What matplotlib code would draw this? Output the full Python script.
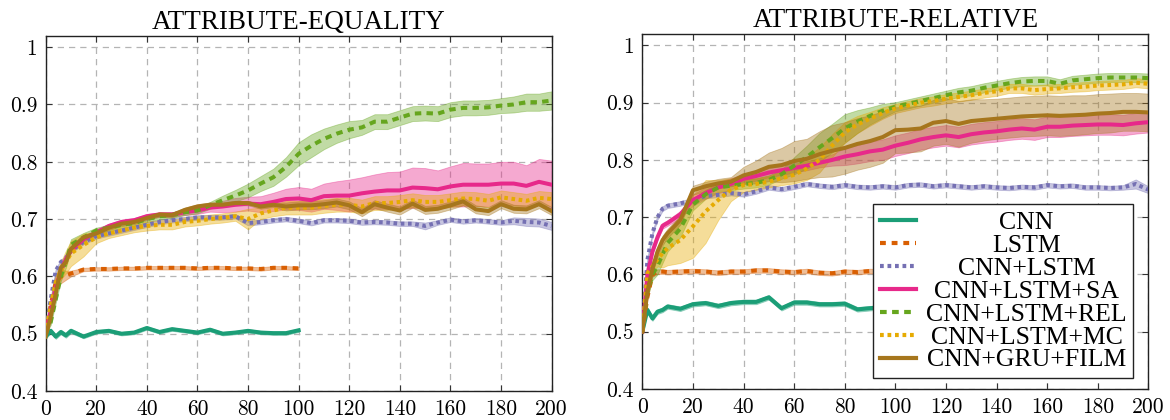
import matplotlib
matplotlib.use("Agg")
import matplotlib.pyplot as plt
from matplotlib.ticker import FuncFormatter, MultipleLocator
import numpy as np

# Epochs at which accuracy was logged
epochs_full = [0, 2, 4, 6, 8, 10] + list(range(15, 205, 5))
epochs_short = [0, 2, 4, 6, 8, 10] + list(range(15, 105, 5))

models = ["CNN", "LSTM", "CNN+LSTM", "CNN+LSTM+SA", "CNN+LSTM+REL", "CNN+LSTM+MC", "CNN+GRU+FILM"]
colors = ["#1b9e77", "#d95f02", "#7570b3", "#e7298a", "#66a61e", "#e6ab02", "#a6761d"]

# ---- ATTRIBUTE-EQUALITY: mean accuracy and spread per model ----
eq_cnn = [0.495, 0.505, 0.495, 0.503, 0.497, 0.505, 0.495, 0.503, 0.505, 0.500, 0.502, 0.510,
          0.503, 0.508, 0.505, 0.502, 0.507, 0.500, 0.502, 0.505, 0.502, 0.501, 0.501, 0.506]
eq_cnn_sd = [0.004] * 6 + [0.003] * 18
eq_lstm = [0.500, 0.550, 0.590, 0.600, 0.602, 0.605, 0.612, 0.613, 0.613, 0.614, 0.614, 0.615,
           0.615, 0.615, 0.615, 0.614, 0.615, 0.615, 0.614, 0.614, 0.613, 0.615, 0.615, 0.614]
eq_lstm_sd = [0.0, 0.010, 0.015, 0.012, 0.008, 0.005] + [0.003] * 18
eq_cnnlstm = [0.500, 0.560, 0.610, 0.625, 0.632, 0.645, 0.660, 0.670, 0.675, 0.680, 0.685, 0.690,
              0.695, 0.698, 0.700, 0.703, 0.703, 0.703, 0.705, 0.693, 0.695, 0.698, 0.700, 0.697,
              0.693, 0.698, 0.698, 0.697, 0.694, 0.695, 0.694, 0.692, 0.692, 0.688, 0.694, 0.699,
              0.696, 0.698, 0.696, 0.694, 0.697, 0.695, 0.694, 0.688]
eq_cnnlstm_sd = [0.004] * 33 + [0.006] + [0.004] * 6 + [0.006, 0.007, 0.007, 0.007]
eq_sa = [0.500, 0.540, 0.580, 0.610, 0.630, 0.645, 0.665, 0.677, 0.688, 0.695, 0.698, 0.705,
         0.708, 0.708, 0.712, 0.715, 0.720, 0.722, 0.725, 0.727, 0.726, 0.730, 0.735, 0.736,
         0.733, 0.740, 0.741, 0.741, 0.745, 0.748, 0.750, 0.750, 0.755, 0.754, 0.752, 0.757,
         0.760, 0.760, 0.760, 0.762, 0.762, 0.758, 0.765, 0.760]
eq_sa_sd = [0.0, 0.004, 0.004, 0.004, 0.004, 0.004, 0.004, 0.004, 0.004, 0.004, 0.004, 0.004,
            0.004, 0.004, 0.005, 0.006, 0.007, 0.010, 0.012, 0.012, 0.014, 0.016, 0.018, 0.020,
            0.020, 0.022, 0.025, 0.028, 0.028, 0.030, 0.032, 0.033, 0.035, 0.035, 0.033, 0.035,
            0.038, 0.037, 0.037, 0.038, 0.038, 0.036, 0.040, 0.042]
eq_rel = [0.500, 0.520, 0.560, 0.600, 0.625, 0.655, 0.668, 0.680, 0.685, 0.690, 0.693, 0.700,
          0.705, 0.707, 0.712, 0.715, 0.724, 0.733, 0.741, 0.750, 0.762, 0.773, 0.791, 0.814,
          0.828, 0.840, 0.849, 0.856, 0.860, 0.870, 0.870, 0.877, 0.884, 0.885, 0.884, 0.891,
          0.894, 0.894, 0.895, 0.898, 0.900, 0.904, 0.904, 0.907]
eq_rel_sd = [0.0, 0.005, 0.006, 0.008, 0.010, 0.010, 0.008, 0.005, 0.005, 0.005, 0.005, 0.005,
             0.005, 0.005, 0.005, 0.005, 0.006, 0.008, 0.010, 0.012, 0.013, 0.015, 0.017, 0.020,
             0.020, 0.018, 0.016, 0.015, 0.013, 0.013, 0.013, 0.013, 0.013, 0.013, 0.013, 0.013,
             0.013, 0.013, 0.013, 0.013, 0.014, 0.015, 0.015, 0.016]
eq_mc = [0.500, 0.550, 0.590, 0.610, 0.625, 0.640, 0.655, 0.668, 0.675, 0.680, 0.685, 0.688,
         0.690, 0.690, 0.695, 0.697, 0.700, 0.702, 0.705, 0.700, 0.710, 0.715, 0.720, 0.720,
         0.720, 0.723, 0.725, 0.725, 0.722, 0.728, 0.728, 0.730, 0.733, 0.730, 0.730, 0.733,
         0.736, 0.735, 0.732, 0.738, 0.735, 0.732, 0.737, 0.735]
eq_mc_sd = [0.0, 0.010, 0.012, 0.015, 0.020, 0.022, 0.020, 0.010, 0.008, 0.008, 0.008, 0.008,
            0.008, 0.008, 0.008, 0.008, 0.008, 0.008, 0.008, 0.018, 0.010, 0.010, 0.012, 0.012,
            0.012, 0.012, 0.012, 0.012, 0.012, 0.012, 0.012, 0.012, 0.012, 0.012, 0.012, 0.012,
            0.012, 0.012, 0.012, 0.012, 0.012, 0.012, 0.012, 0.012]
eq_film = [0.495, 0.530, 0.570, 0.615, 0.625, 0.648, 0.668, 0.675, 0.685, 0.692, 0.695, 0.702,
           0.708, 0.707, 0.716, 0.722, 0.725, 0.725, 0.728, 0.728, 0.722, 0.725, 0.722, 0.724,
           0.724, 0.726, 0.729, 0.724, 0.712, 0.726, 0.720, 0.715, 0.727, 0.716, 0.718, 0.724,
           0.731, 0.717, 0.714, 0.726, 0.718, 0.717, 0.726, 0.714]
eq_film_sd = [0.004] * 22 + [0.007] * 22

# ---- ATTRIBUTE-RELATIVE ----
rel_cnn = [0.500, 0.538, 0.523, 0.535, 0.538, 0.544, 0.540, 0.548, 0.550, 0.545, 0.550, 0.552,
           0.552, 0.560, 0.541, 0.551, 0.551, 0.548, 0.548, 0.549, 0.539, 0.541, 0.543, 0.542]
rel_cnn_sd = [0.004] * 24
rel_lstm = [0.500, 0.560, 0.600, 0.605, 0.605, 0.604, 0.605, 0.606, 0.605, 0.603, 0.605, 0.605,
            0.607, 0.607, 0.605, 0.604, 0.606, 0.603, 0.602, 0.605, 0.604, 0.606, 0.605, 0.605]
rel_lstm_sd = [0.0] + [0.004] * 23
rel_cnnlstm = [0.500, 0.625, 0.672, 0.700, 0.715, 0.720, 0.724, 0.730, 0.737, 0.739, 0.742, 0.740,
               0.745, 0.752, 0.749, 0.753, 0.758, 0.755, 0.753, 0.756, 0.753, 0.752, 0.754, 0.752,
               0.756, 0.757, 0.754, 0.756, 0.754, 0.752, 0.754, 0.752, 0.751, 0.753, 0.752, 0.756,
               0.754, 0.755, 0.752, 0.752, 0.751, 0.752, 0.758, 0.748]
rel_cnnlstm_sd = [0.004] * 42 + [0.008, 0.006]
rel_sa = [0.500, 0.600, 0.640, 0.665, 0.685, 0.690, 0.705, 0.730, 0.742, 0.752, 0.758, 0.767,
          0.772, 0.778, 0.782, 0.786, 0.790, 0.795, 0.800, 0.806, 0.810, 0.815, 0.818, 0.825,
          0.830, 0.836, 0.840, 0.843, 0.840, 0.845, 0.848, 0.850, 0.853, 0.855, 0.853, 0.858,
          0.858, 0.860, 0.861, 0.862, 0.862, 0.861, 0.864, 0.866]
rel_sa_sd = [0.0, 0.005, 0.005, 0.005, 0.005, 0.005, 0.006, 0.010, 0.010, 0.010, 0.010, 0.008,
             0.008, 0.008, 0.008, 0.008, 0.008, 0.008, 0.010, 0.015, 0.016, 0.017, 0.018, 0.018,
             0.018, 0.018, 0.018, 0.018, 0.018, 0.018, 0.018, 0.018, 0.018, 0.018, 0.018, 0.018,
             0.018, 0.018, 0.018, 0.018, 0.018, 0.018, 0.018, 0.018]
rel_rel = [0.500, 0.570, 0.600, 0.615, 0.635, 0.655, 0.680, 0.722, 0.740, 0.752, 0.755, 0.758,
           0.760, 0.765, 0.775, 0.790, 0.805, 0.822, 0.838, 0.855, 0.867, 0.877, 0.886, 0.893,
           0.898, 0.903, 0.908, 0.913, 0.918, 0.921, 0.926, 0.930, 0.934, 0.937, 0.938, 0.938,
           0.933, 0.939, 0.941, 0.943, 0.944, 0.944, 0.944, 0.943]
rel_rel_sd = [0.0, 0.010, 0.010, 0.015, 0.015, 0.015, 0.015, 0.010, 0.008, 0.008, 0.008, 0.008,
              0.008, 0.008, 0.008, 0.015, 0.020, 0.025, 0.025, 0.025, 0.020, 0.015, 0.012, 0.008,
              0.008, 0.008, 0.008, 0.008, 0.008, 0.008, 0.008, 0.008, 0.008, 0.008, 0.008, 0.008,
              0.008, 0.008, 0.008, 0.008, 0.008, 0.008, 0.008, 0.008]
rel_mc = [0.500, 0.602, 0.614, 0.626, 0.637, 0.646, 0.660, 0.684, 0.710, 0.730, 0.748, 0.756,
          0.758, 0.762, 0.768, 0.774, 0.785, 0.800, 0.825, 0.848, 0.862, 0.872, 0.882, 0.890,
          0.895, 0.900, 0.903, 0.907, 0.910, 0.913, 0.917, 0.920, 0.925, 0.925, 0.922, 0.924,
          0.925, 0.927, 0.928, 0.930, 0.931, 0.932, 0.935, 0.933]
rel_mc_sd = [0.0, 0.010, 0.010, 0.012, 0.025, 0.030, 0.040, 0.055, 0.055, 0.035, 0.020, 0.012,
             0.010, 0.010, 0.012, 0.015, 0.020, 0.022, 0.020, 0.018, 0.015, 0.012, 0.010, 0.008,
             0.008, 0.008, 0.008, 0.008, 0.008, 0.008, 0.008, 0.008, 0.008, 0.008, 0.008, 0.008,
             0.008, 0.008, 0.008, 0.008, 0.008, 0.008, 0.008, 0.008]
rel_film = [0.500, 0.570, 0.610, 0.640, 0.660, 0.672, 0.695, 0.747, 0.754, 0.759, 0.762, 0.773,
            0.779, 0.788, 0.791, 0.798, 0.802, 0.810, 0.816, 0.821, 0.828, 0.833, 0.840, 0.852,
            0.853, 0.855, 0.865, 0.868, 0.863, 0.868, 0.870, 0.872, 0.874, 0.876, 0.877, 0.878,
            0.877, 0.878, 0.879, 0.881, 0.882, 0.884, 0.884, 0.883]
rel_film_sd = [0.0, 0.008, 0.008, 0.008, 0.008, 0.008, 0.008, 0.008, 0.008, 0.008, 0.008, 0.015,
               0.020, 0.025, 0.030, 0.035, 0.035, 0.040, 0.045, 0.045, 0.045, 0.045, 0.045, 0.040,
               0.040, 0.040, 0.040, 0.040, 0.040, 0.038, 0.036, 0.035, 0.035, 0.035, 0.035, 0.035,
               0.035, 0.035, 0.034, 0.034, 0.034, 0.033, 0.033, 0.033]

styles = [
    dict(linestyle="-"),
    dict(linestyle=(0, (1.4, 1.4))),
    dict(linestyle=(0, (0.9, 0.9))),
    dict(linestyle="-"),
    dict(linestyle=(0, (1.6, 1.3))),
    dict(linestyle=(0, (0.9, 0.9))),
    dict(linestyle="-"),
]

panels = [
    ("ATTRIBUTE-EQUALITY",
     [(epochs_short, eq_cnn, eq_cnn_sd), (epochs_short, eq_lstm, eq_lstm_sd),
      (epochs_full, eq_cnnlstm, eq_cnnlstm_sd), (epochs_full, eq_sa, eq_sa_sd),
      (epochs_full, eq_rel, eq_rel_sd), (epochs_full, eq_mc, eq_mc_sd),
      (epochs_full, eq_film, eq_film_sd)]),
    ("ATTRIBUTE-RELATIVE",
     [(epochs_short, rel_cnn, rel_cnn_sd), (epochs_short, rel_lstm, rel_lstm_sd),
      (epochs_full, rel_cnnlstm, rel_cnnlstm_sd), (epochs_full, rel_sa, rel_sa_sd),
      (epochs_full, rel_rel, rel_rel_sd), (epochs_full, rel_mc, rel_mc_sd),
      (epochs_full, rel_film, rel_film_sd)]),
]

fig = plt.figure(figsize=(11.7, 4.2), dpi=100)
ax_rects = [[0.039, 0.069, 0.4325, 0.846], [0.549, 0.074, 0.4325, 0.845]]

serif = "Liberation Serif"
axes = []
for rect, (title, series) in zip(ax_rects, panels):
    ax = fig.add_axes(rect)
    axes.append(ax)
    for (x, y, sd), c in zip(series, colors):
        x = np.asarray(x)
        y = np.asarray(y)
        sd = np.asarray(sd)
        ax.fill_between(x, y - sd, y + sd, color=c, alpha=0.4, linewidth=0.6, zorder=2)
    for (x, y, sd), c, st, name in zip(series, colors, styles, models):
        ax.plot(x, y, color=c, linewidth=2.9, label=name, zorder=3, **st)

    ax.set_xlim(0, 200)
    ax.set_ylim(0.4, 1.02)
    ax.xaxis.set_major_locator(MultipleLocator(20))
    ax.yaxis.set_major_locator(MultipleLocator(0.1))
    ax.yaxis.set_major_formatter(FuncFormatter(lambda v, p: f"{v:g}"))
    ax.grid(True, color="#b4b4b4", linestyle=(0, (5, 4)), linewidth=0.9, zorder=0)
    ax.set_axisbelow(True)
    ax.tick_params(direction="in", length=4, width=0.8, top=True, right=True,
                   colors="#333333", labelcolor="black", pad=6)
    for lab in ax.get_xticklabels() + ax.get_yticklabels():
        lab.set_fontfamily("cmr10")
        lab.set_fontsize(15.5)
    for sp in ax.spines.values():
        sp.set_linewidth(1.0)
        sp.set_color("#222222")
    ax.set_title(title, fontfamily=serif, fontsize=19.5, pad=5)

# Legend in the right panel, labels centred in their column
ax = axes[1]
leg = ax.legend(loc="lower right", bbox_to_anchor=(0.97, 0.031), borderaxespad=0,
                prop=dict(family=serif, size=18.5), fancybox=False,
                framealpha=1, edgecolor="#222222", handlelength=1.4, handletextpad=0.4,
                labelspacing=0.0, borderpad=0.25)
leg.get_frame().set_linewidth(1.0)
for h in leg.get_lines():
    h.set_linewidth(3.0)

fig.canvas.draw()
renderer = fig.canvas.get_renderer()
boxes = [t.get_window_extent(renderer) for t in leg.get_texts()]
widest = max(boxes, key=lambda b: b.width)
cx = (widest.x0 + widest.x1) / 2
for t, b in zip(leg.get_texts(), boxes):
    t.set_alpha(0)
    fig.text(cx / fig.bbox.width, (b.y0 + b.y1) / 2 / fig.bbox.height, t.get_text(),
             ha="center", va="center", fontfamily=serif, fontsize=18.5, zorder=10)

fig.savefig("out.png", dpi=100)
